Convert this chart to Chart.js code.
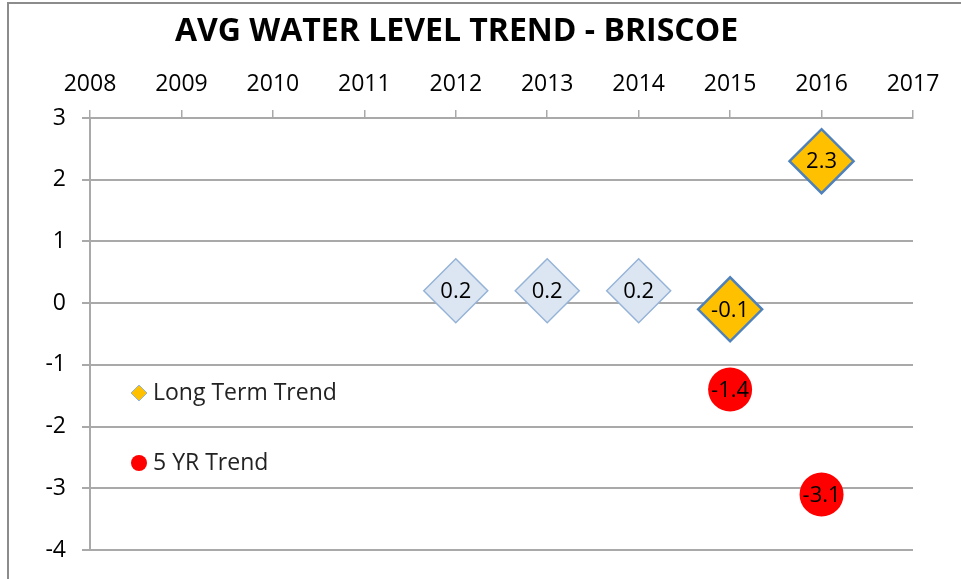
<!DOCTYPE html>
<html>
<head>
<meta charset="utf-8">
<script src="https://cdn.jsdelivr.net/npm/chart.js@4.4.1/dist/chart.umd.min.js"></script>
<style>
  html, body { margin: 0; padding: 0; background: #fff; overflow: hidden; }
  #wrap { position: relative; width: 961px; height: 579px; }
  #frame { position: absolute; left: 7px; top: 2px; width: 1100px; height: 700px; border: 2px solid #8c8c8c; }
  #chart { position: absolute; left: 0; top: 0; }
</style>
</head>
<body>
<div id="wrap">
  <div id="frame"></div>
  <canvas id="chart" width="961" height="579"></canvas>
</div>
<script>
// Chart data
const chartTitle = 'AVG WATER LEVEL TREND - BRISCOE';
const xTickYears = [2008, 2009, 2010, 2011, 2012, 2013, 2014, 2015, 2016, 2017];
const yTickValues = [-4, -3, -2, -1, 0, 1, 2, 3];

const priorYears = [2012, 2013, 2014];
const priorValues = [0.2, 0.2, 0.2];

const longTermYears = [2015, 2016];
const longTermValues = [-0.1, 2.3];

const fiveYrYears = [2015, 2016];
const fiveYrValues = [-1.4, -3.1];

const FONT = '"Open Sans", "Liberation Sans", sans-serif';
const GRID = '#a9a9a9';
const TITLE_SIZE = 32;
const TITLE_TOP = 13;

const toPoints = (xs, ys) => xs.map((x, i) => ({ x: x, y: ys[i] }));

/**
 * Value labels centred on each marker
 */
const valueLabels = {
    id: 'valueLabels',
    afterDatasetsDraw(chart) {
        const ctx = chart.ctx;
        ctx.save();
        ctx.font = '22px ' + FONT;
        ctx.fillStyle = '#000';
        ctx.textAlign = 'center';
        ctx.textBaseline = 'middle';
        chart.data.datasets.forEach((ds, i) => {
            chart.getDatasetMeta(i).data.forEach((pt, j) => {
                ctx.fillText(ds.data[j].y.toFixed(1), pt.x, pt.y + 1);
            });
        });
        ctx.restore();
    }
};

/**
 * Legend drawn inside the plot area, like the original
 */
const insideLegend = {
    id: 'insideLegend',
    afterDraw(chart) {
        const ctx = chart.ctx;
        const area = chart.chartArea;
        const items = chart.data.datasets
            .filter(ds => ds.legendRank)
            .sort((a, b) => a.legendRank - b.legendRank);
        ctx.save();
        ctx.font = '23px ' + FONT;
        ctx.textBaseline = 'middle';
        ctx.textAlign = 'left';
        items.forEach((ds, i) => {
            const mx = area.left + 49;
            const my = area.top + 275 + i * 70;
            ctx.fillStyle = ds.backgroundColor;
            ctx.strokeStyle = ds.legendBorder;
            ctx.lineWidth = 1;
            ctx.beginPath();
            if (ds.pointStyle === 'circle') {
                ctx.arc(mx, my, 8, 0, Math.PI * 2);
                ctx.fill();
            } else {
                ctx.moveTo(mx - 8, my);
                ctx.lineTo(mx, my - 8);
                ctx.lineTo(mx + 8, my);
                ctx.lineTo(mx, my + 8);
                ctx.closePath();
                ctx.fill();
                ctx.stroke();
            }
            ctx.fillStyle = '#222';
            ctx.fillText(ds.label, mx + 14, my);
        });
        ctx.restore();
    }
};

new Chart(document.getElementById('chart'), {
    type: 'scatter',
    data: {
        datasets: [
            {
                label: '5 YR Trend',
                data: toPoints(fiveYrYears, fiveYrValues),
                pointStyle: 'circle',
                pointRadius: 22,
                pointHoverRadius: 22,
                backgroundColor: '#ff0000',
                borderColor: '#ff0000',
                borderWidth: 0,
                legendBorder: '#ff0000',
                legendRank: 2,
                order: 1
            },
            {
                label: 'Long Term Trend',
                data: toPoints(longTermYears, longTermValues),
                pointStyle: 'rectRot',
                pointRadius: 32,
                pointHoverRadius: 32,
                backgroundColor: '#ffc000',
                borderColor: '#4f81bd',
                borderWidth: 2.5,
                legendBorder: '#95b3d7',
                legendRank: 1,
                order: 2
            },
            {
                label: 'Prior Trend',
                data: toPoints(priorYears, priorValues),
                pointStyle: 'rectRot',
                pointRadius: 32,
                pointHoverRadius: 32,
                backgroundColor: '#dce6f2',
                borderColor: '#95b3d7',
                borderWidth: 1.5,
                legendRank: 0,
                order: 3
            }
        ]
    },
    options: {
        responsive: false,
        animation: false,
        layout: { autoPadding: false, padding: { left: 0, right: 48, top: 0, bottom: 29 } },
        plugins: {
            legend: { display: false },
            tooltip: { enabled: false },
            title: {
                display: true,
                text: chartTitle,
                color: '#000',
                font: { family: FONT, size: TITLE_SIZE, weight: 'bold' },
                padding: { top: TITLE_TOP, bottom: 0 }
            }
        },
        scales: {
            x: {
                type: 'linear',
                position: 'top',
                min: xTickYears[0],
                max: xTickYears[xTickYears.length - 1],
                afterBuildTicks: scale => { scale.ticks = xTickYears.map(v => ({ value: v })); },
                afterFit: scale => { scale.height = 118 - TITLE_TOP - TITLE_SIZE * 1.2; },
                border: { display: true, color: GRID, width: 2 },
                grid: { drawOnChartArea: false, drawTicks: true, tickLength: 8, color: GRID, lineWidth: 1.5 },
                ticks: {
                    color: '#000',
                    padding: 12,
                    maxRotation: 0,
                    font: { family: FONT, size: 23 },
                    callback: v => String(v)
                }
            },
            y: {
                min: yTickValues[0],
                max: yTickValues[yTickValues.length - 1],
                afterBuildTicks: scale => { scale.ticks = yTickValues.map(v => ({ value: v })); },
                afterFit: scale => {
                    scale.width = 90;
                    scale.paddingTop = 0;
                    scale.paddingBottom = 0;
                },
                border: { display: true, color: GRID, width: 2 },
                grid: { color: GRID, lineWidth: 2, tickLength: 8 },
                ticks: {
                    color: '#000',
                    padding: 16,
                    font: { family: FONT, size: 23 },
                    callback: v => String(v)
                }
            }
        }
    },
    plugins: [valueLabels, insideLegend]
});
</script>
</body>
</html>
